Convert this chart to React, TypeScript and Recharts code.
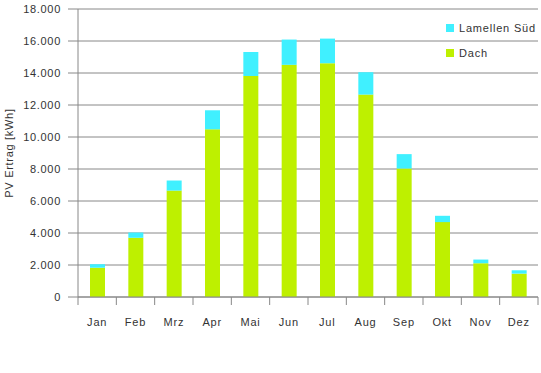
import React from 'react';
import { BarChart, Bar, XAxis, YAxis, CartesianGrid, Legend } from 'recharts';

const months = ['Jan', 'Feb', 'Mrz', 'Apr', 'Mai', 'Jun', 'Jul', 'Aug', 'Sep', 'Okt', 'Nov', 'Dez'];
const dach = [1830, 3700, 6650, 10480, 13820, 14510, 14610, 12650, 8030, 4680, 2110, 1460];
const lamellen = [220, 330, 630, 1190, 1500, 1580, 1540, 1400, 900, 395, 230, 210];
const yTicks = [0, 2000, 4000, 6000, 8000, 10000, 12000, 14000, 16000, 18000];

const data = months.map((m, i) => ({ month: m, dach: dach[i], lamellen: lamellen[i] }));

const GREEN = '#bef000';
const CYAN = '#40f0ff';
const GRID = '#888888';
const TEXT = '#333333';
const FONT = '"Liberation Sans", Arial, sans-serif';
const X_TICK_SIZE = 10;
const X_TICK_MARGIN = 11;

const fmt = (v: number) => String(v).replace(/\B(?=(\d{3})+(?!\d))/g, '.');

const legendItems = [
  { label: 'Lamellen Süd', color: CYAN },
  { label: 'Dach', color: GREEN },
];

const LegendContent = () => (
  <div style={{ fontFamily: FONT, fontSize: 11, color: TEXT, letterSpacing: 0.8 }}>
    {legendItems.map((it) => (
      <div key={it.label} style={{ display: 'flex', alignItems: 'center', height: 25 }}>
        <span style={{ display: 'inline-block', width: 8, height: 8, background: it.color, marginRight: 5 }} />
        <span>{it.label}</span>
      </div>
    ))}
  </div>
);

const MonthTick = (props: any) => {
  const { x, y, payload, width, visibleTicksCount, index } = props;
  const band = width / visibleTicksCount;
  const axisY = y - X_TICK_SIZE - X_TICK_MARGIN;
  const left = x - band / 2;
  const right = x + band / 2;
  return (
    <g>
      <line x1={left} x2={left} y1={axisY} y2={axisY + 8} stroke={GRID} />
      {index === visibleTicksCount - 1 && (
        <line x1={right} x2={right} y1={axisY} y2={axisY + 8} stroke={GRID} />
      )}
      <text
        x={x}
        y={y}
        dy="0.71em"
        textAnchor="middle"
        fill={TEXT}
        fontSize={11}
        fontFamily={FONT}
        letterSpacing={0.8}
      >
        {payload.value}
      </text>
    </g>
  );
};

export default function App() {
  return (
    <div style={{ position: 'absolute', left: 0, top: 0, width: 541, height: 373, background: '#fff' }}>
      <BarChart
        width={541}
        height={373}
        data={data}
        margin={{ top: 9, right: 3, bottom: 46, left: 0 }}
        barSize={15}
      >
        <CartesianGrid horizontal vertical={false} stroke={GRID} strokeWidth={1} />
        <XAxis
          dataKey="month"
          height={30}
          axisLine={{ stroke: GRID }}
          tickLine={false}
          tickSize={X_TICK_SIZE}
          tickMargin={X_TICK_MARGIN}
          interval={0}
          tick={<MonthTick />}
        />
        <YAxis
          width={78}
          domain={[0, 18000]}
          ticks={yTicks}
          interval={0}
          axisLine={{ stroke: GRID }}
          tickLine={{ stroke: GRID }}
          tickSize={10}
          tickMargin={7}
          tickFormatter={fmt}
          tick={{ fill: TEXT, fontSize: 11, fontFamily: FONT, letterSpacing: 0.7 }}
          label={{
            value: 'PV Ertrag [kWh]',
            angle: -90,
            position: 'insideLeft',
            offset: 9,
            style: { textAnchor: 'middle', fill: TEXT, fontSize: 11, fontFamily: FONT, letterSpacing: 0.7 },
          }}
        />
        <Legend
          content={<LegendContent />}
          layout="horizontal"
          verticalAlign="middle"
          align="center"
          wrapperStyle={{ position: 'absolute', left: 446, top: 15.5, width: 95 }}
        />
        <Bar dataKey="dach" name="Dach" stackId="a" fill={GREEN} isAnimationActive={false} />
        <Bar dataKey="lamellen" name="Lamellen Süd" stackId="a" fill={CYAN} isAnimationActive={false} />
      </BarChart>
    </div>
  );
}
